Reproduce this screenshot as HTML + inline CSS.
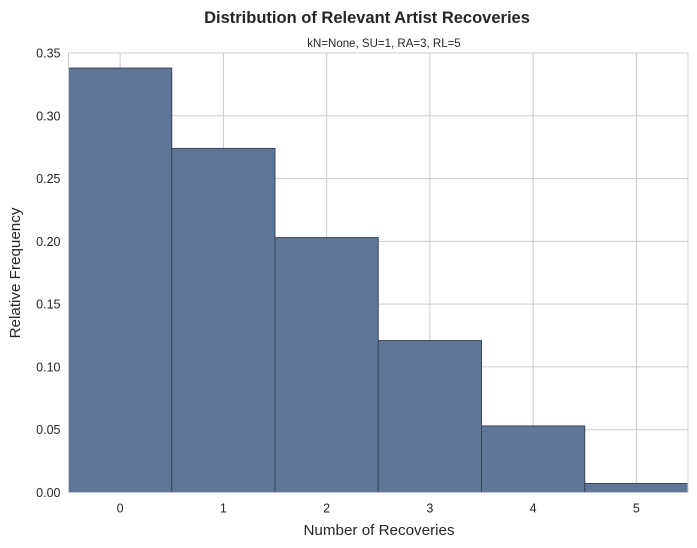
<!DOCTYPE html>
<html><head><meta charset="utf-8"><style>
body{margin:0;background:#fff;}
svg{display:block;font-family:"Liberation Sans",Arial,sans-serif;}
</style></head><body>
<svg id="chart" width="697" height="548"></svg>
<script>
const categories = [0, 1, 2, 3, 4, 5];
const frequencies = [0.338, 0.274, 0.203, 0.121, 0.053, 0.0072];
const yTicks = [0, 0.05, 0.10, 0.15, 0.20, 0.25, 0.30, 0.35];
const yTickLabels = ["0.00","0.05","0.10","0.15","0.20","0.25","0.30","0.35"];

const L=68.5, R=688, T=53, B=492.5;
const NS="http://www.w3.org/2000/svg";
const svg=document.getElementById('chart');
const xs=v=>L+(v+0.5)*(R-L)/6;
const ys=v=>B-v*(B-T)/0.35;
function mk(tag,attrs,parent){const e=document.createElementNS(NS,tag);for(const k in attrs)e.setAttribute(k,attrs[k]);(parent||svg).appendChild(e);return e;}

const bg=mk('rect',{x:L,y:T,width:R-L,height:B-T,fill:'#fff'});



yTicks.forEach((v,i)=>{
  const g=mk('line',{x1:L,x2:R,y1:ys(v),y2:ys(v),stroke:'#cccccc','stroke-width':1});
  
  
  const t=mk('text',{x:L-8,y:ys(v)+4.5,'text-anchor':'end','font-size':12.5,fill:'#262626'});
  t.textContent=yTickLabels[i];
  
  
});
categories.forEach(c=>{
  const g=mk('line',{x1:xs(c),x2:xs(c),y1:T,y2:B,stroke:'#cccccc','stroke-width':1});
  
  
  const t=mk('text',{x:xs(c),y:B+20,'text-anchor':'middle','font-size':12.5,fill:'#262626'});
  t.textContent=String(c);
  
  
});
categories.forEach((c,i)=>{
  const x0=xs(c-0.5), x1=xs(c+0.5), y=ys(frequencies[i]);
  const r=mk('rect',{x:x0,y:y,width:x1-x0,height:B-y,fill:'#5e7698',stroke:'#3a465c','stroke-width':1});
  
  
});
const frame=mk('rect',{x:L,y:T,width:R-L,height:B-T,fill:'none',stroke:'#cccccc','stroke-width':1});



const title=mk('text',{x:367,y:23,'text-anchor':'middle','font-size':16.5,'font-weight':'bold',fill:'#262626'});
title.textContent='Distribution of Relevant Artist Recoveries';


const sub=mk('text',{x:384,y:47,'text-anchor':'middle','font-size':11.5,fill:'#262626'});
sub.textContent='kN=None, SU=1, RA=3, RL=5';


const xl=mk('text',{x:379,y:535,'text-anchor':'middle','font-size':15.2,fill:'#262626'});
xl.textContent='Number of Recoveries';


const yl=mk('text',{x:0,y:0,'text-anchor':'middle','font-size':15.2,fill:'#262626',transform:'translate(20,273) rotate(-90)'});
yl.textContent='Relative Frequency';


</script>
</body></html>
